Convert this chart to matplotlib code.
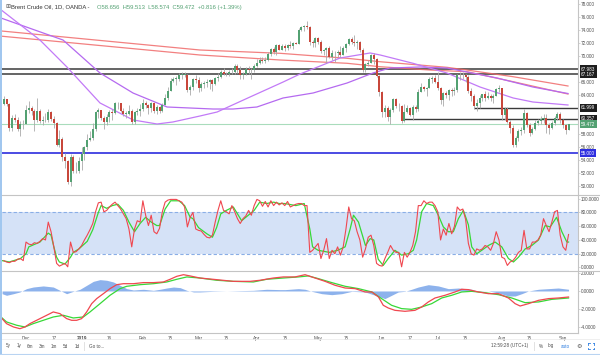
import numpy as np
import pandas as pd
import matplotlib
matplotlib.use("Agg")
import matplotlib.pyplot as plt
import matplotlib.transforms as mtrans
from matplotlib.lines import Line2D

# ---------------- data ----------------
holidays = ["2018-12-25", "2019-01-01"]
dates = pd.bdate_range("2018-11-21", "2019-09-04")
dates = dates[~dates.isin(pd.to_datetime(holidays))]

first_open = 62.6
closes = [
    63.3, 62.6, 58.9, 60.5, 60.2, 58.8, 59.5, 59.5,
    61.7, 62.0, 61.6, 60.1, 61.6, 60.0, 60.2, 60.1, 61.4, 60.3, 59.6, 56.3, 57.2, 54.4, 53.8, 50.5, 54.5, 52.2, 52.2, 53.8,
    54.9, 55.9, 57.1, 57.3, 58.7, 61.4, 61.7, 60.5, 59.9, 60.6, 61.3, 61.2, 62.7, 62.7, 61.5, 61.1, 61.1, 61.6, 59.9, 61.3, 61.6, 61.9,
    62.8, 62.5, 62.0, 62.7, 61.6, 62.1, 61.5, 62.4, 63.6, 64.6, 66.2, 66.5, 66.5, 67.1, 67.1, 67.1, 64.8, 65.2, 66.4, 66.3,
    65.1, 65.7, 65.9, 66.0, 66.3, 65.7, 66.6, 66.7, 67.6, 67.2, 67.2, 67.5, 67.6, 68.5, 67.9, 67.0, 67.2, 68.0, 67.8, 67.8, 68.4,
    69.0, 69.4, 69.3, 69.4, 70.3, 71.1, 70.6, 71.7, 71.0, 71.6, 71.2, 71.7, 71.6, 72.0, 71.9, 74.0, 74.5, 74.6, 74.4, 72.2, 72.0, 72.8,
    72.2, 70.8, 70.9, 71.2, 69.9, 70.4, 70.4, 70.6, 70.2, 71.2, 71.8, 72.6, 72.2, 72.0, 72.2, 71.0, 67.8, 68.7, 69.0, 70.1, 69.5, 66.9, 64.5,
    61.3, 62.0, 60.6, 61.7, 63.3, 62.3, 62.3, 60.0, 61.3, 62.0, 60.9, 62.1, 61.8, 64.5, 65.2, 64.9, 65.1, 66.5, 66.6, 66.0,
    65.0, 63.2, 64.3, 64.0, 64.7, 64.6, 64.7, 67.1, 67.0, 67.1, 66.8, 64.6, 63.9, 62.3, 62.8, 63.5, 64.1, 63.6, 63.8, 63.6, 63.9, 64.9, 65.1,
    60.9, 61.9, 59.8, 58.9, 56.3, 57.3, 58.5, 58.6, 61.2, 59.4, 58.2, 58.7, 59.7, 60.0, 60.3, 60.5, 59.3, 58.9, 59.6, 60.5, 61.1, 60.1,
    59.4, 58.656, 59.472,
]
highs = [
    63.8, 63.4, 62.7, 60.9, 61.0, 60.6, 60.0, 60.2,
    62.5, 63.0, 62.3, 61.8, 63.6, 61.8, 60.8, 61.2, 61.8, 61.5, 60.7, 59.9, 58.6, 57.5, 55.0, 53.9, 54.9, 54.8, 53.7, 54.5,
    55.9, 56.2, 58.0, 58.5, 59.6, 61.5, 62.0, 61.4, 60.8, 61.0, 61.7, 61.9, 62.9, 62.9, 62.6, 62.0, 61.6, 62.4, 61.8, 61.5, 62.0, 62.6,
    63.3, 63.0, 62.6, 62.9, 62.9, 62.4, 62.3, 62.8, 64.2, 65.2, 66.6, 66.8, 66.9, 67.4, 67.5, 67.5, 67.2, 65.6, 66.6, 67.0,
    66.8, 66.0, 66.1, 66.4, 66.5, 66.4, 66.8, 67.4, 67.9, 68.1, 67.6, 67.9, 68.2, 68.7, 68.7, 68.4, 67.6, 68.3, 68.4, 68.2, 68.7,
    69.6, 69.8, 69.9, 69.9, 70.6, 71.3, 71.4, 71.9, 71.8, 71.8, 71.9, 71.8, 72.3, 72.1, 72.1, 74.3, 74.7, 74.8, 75.4, 74.6, 72.5, 73.0,
    73.0, 72.4, 71.1, 71.4, 71.5, 71.0, 70.7, 71.0, 71.5, 71.5, 72.0, 72.8, 73.0, 73.2, 72.4, 72.3, 71.2, 69.0, 69.4, 70.3, 70.4, 69.7, 67.0,
    64.6, 62.4, 62.3, 62.0, 63.5, 63.6, 62.8, 62.4, 62.6, 62.4, 62.2, 62.4, 62.5, 64.9, 65.8, 65.4, 65.3, 66.8, 66.9, 67.0,
    67.5, 65.3, 64.5, 64.6, 64.9, 65.0, 65.3, 67.3, 67.5, 67.5, 67.3, 67.1, 65.1, 64.2, 63.4, 64.0, 64.2, 64.6, 64.5, 64.1, 64.1, 65.1, 65.6,
    65.1, 62.2, 62.1, 60.1, 59.3, 57.7, 58.7, 59.1, 61.9, 61.4, 59.7, 59.1, 60.2, 60.3, 60.8, 61.1, 61.0, 59.6, 60.0, 60.8, 61.4, 61.3,
    60.3, 59.5, 59.513,
]
lows = [
    62.4, 62.3, 58.4, 58.5, 59.8, 58.4, 57.6, 58.7,
    59.6, 61.2, 60.9, 58.4, 59.8, 59.7, 59.3, 59.8, 59.8, 60.0, 58.9, 56.1, 55.9, 53.8, 52.8, 50.2, 49.9, 51.9, 52.0, 52.0,
    52.5, 54.0, 55.5, 56.9, 57.1, 58.5, 60.4, 60.1, 58.8, 59.4, 59.8, 60.2, 61.0, 61.8, 61.3, 60.8, 60.4, 60.9, 59.5, 59.5, 60.9, 60.8,
    61.5, 62.0, 61.0, 61.4, 61.2, 61.0, 61.2, 61.3, 62.6, 63.2, 64.6, 66.0, 65.6, 66.2, 66.5, 66.7, 64.5, 64.0, 64.8, 65.9,
    64.4, 64.6, 65.1, 65.2, 64.9, 64.6, 65.5, 66.2, 66.6, 67.0, 66.9, 66.9, 67.3, 67.2, 67.4, 66.5, 66.4, 67.1, 67.3, 66.5, 67.6,
    68.3, 68.8, 68.9, 68.9, 69.3, 70.0, 70.3, 70.2, 70.9, 70.9, 70.8, 70.9, 71.3, 71.1, 71.8, 71.8, 73.8, 73.9, 74.1, 71.7, 71.4, 71.4,
    71.8, 70.4, 70.2, 69.0, 69.7, 69.4, 69.1, 69.9, 69.9, 70.1, 70.6, 71.7, 71.9, 71.6, 71.1, 70.6, 67.5, 67.5, 68.4, 68.9, 68.7, 66.7, 63.9,
    60.6, 60.6, 60.0, 59.5, 61.4, 62.0, 61.6, 59.6, 59.8, 61.2, 60.8, 60.1, 61.3, 61.6, 64.4, 64.6, 63.9, 65.0, 65.9, 65.8,
    64.7, 62.6, 62.3, 63.6, 63.2, 63.8, 64.0, 64.4, 66.3, 66.4, 66.0, 64.3, 63.0, 61.8, 61.5, 62.0, 63.1, 63.0, 63.3, 63.1, 62.7, 63.8, 64.4,
    60.1, 60.1, 59.6, 58.1, 55.9, 56.0, 56.9, 57.8, 58.2, 59.0, 57.7, 57.9, 58.6, 59.3, 59.5, 59.7, 58.1, 57.9, 58.7, 59.4, 60.2, 59.7,
    58.9, 57.9, 58.574,
]

# moving averages: (bar index, price)
ma_fast_idx = [-0.6, 13.0, 22.7, 34.6, 46.5, 55.1, 60.8, 70.5, 76.7, 88.5, 100.4, 106.5, 110.1, 120.9, 131.7, 135.3, 142.4, 147.1, 159.3, 171.2, 183.1, 190.2, 202.8]
ma_fast_val = [77.0, 72.47, 68.31, 62.76, 60.14, 59.52, 59.83, 60.75, 61.37, 63.68, 65.99, 67.23, 67.84, 69.70, 70.47, 70.16, 69.39, 68.88, 67.38, 65.22, 63.53, 62.91, 62.45]
ma_slow_idx = [-0.6, 21.3, 34.6, 46.5, 58.7, 75.2, 82.4, 91.0, 100.4, 111.2, 123.4, 132.7, 138.8, 149.6, 159.3, 166.5, 177.3, 190.2, 202.8]
ma_slow_val = [75.8, 72.47, 67.38, 64.29, 62.14, 61.83, 61.83, 62.14, 63.53, 64.30, 65.84, 67.38, 68.15, 68.31, 68.15, 67.54, 66.61, 65.22, 64.22]
ma_red1_idx = [-0.6, 70.5, 99.3, 123.4, 135.3, 159.3, 166.5, 183.1, 202.8]
ma_red1_val = [73.85, 70.93, 70.42, 69.65, 69.12, 68.26, 67.84, 66.81, 65.38]
ma_red2_idx = [-0.6, 70.5, 99.3, 123.4, 135.3, 153.2, 166.5, 183.1, 202.8]
ma_red2_val = [73.05, 70.16, 69.39, 68.88, 68.35, 67.84, 67.58, 66.04, 64.14]

# horizontal levels
full_levels = [67.983, 67.167]
partial_levels = [61.999, 60.357]
partial_start = ["2019-07-18", "2019-06-12"]
support_level = 55.000
last_price = 59.472

# stochastic
stoch_k = [
    10, 8, 7, 9, 9, 12, 13, 10, 37, 34, 33, 36, 35, 38, 42, 40, 66, 52, 30, 6,
    2, 4, 6, 1, 37, 22, 23, 27, 32, 40, 47, 55, 64, 81, 94, 95, 81, 83, 88, 92,
    95, 90, 85, 78, 71, 56, 30, 56, 68, 66, 97, 76, 61, 76, 52, 49, 57, 81, 95, 98,
    99, 99, 99, 97, 95, 88, 59, 73, 80, 56, 54, 53, 48, 44, 43, 47, 66, 83, 97, 83,
    81, 78, 90, 81, 71, 64, 71, 75, 83, 76, 90, 99, 97, 89, 96, 88, 97, 90, 95, 91,
    94, 90, 96, 88, 90, 92, 93, 93, 90, 90, 22, 25, 30, 35, 13, 25, 42, 13, 25, 20,
    30, 18, 30, 56, 88, 71, 68, 52, 40, 15, 27, 44, 47, 32, 6, 3, 2, 13, 22, 32,
    25, 22, 22, 1, 22, 15, 22, 32, 52, 90, 90, 97, 93, 95, 95, 90, 81, 40, 56, 47,
    64, 49, 60, 88, 83, 85, 70, 35, 20, 18, 27, 25, 27, 32, 30, 25, 35, 52, 40, 15,
    13, 3, 8, 10, 15, 22, 25, 54, 27, 27, 37, 37, 40, 47, 71, 61, 52, 66, 81, 83,
    47, 30, 25, 48,
]
stoch_d_idx = [-0.6, 2, 6, 8, 9, 13, 16, 17, 18, 19, 20, 22, 24, 25, 27, 30, 32, 34, 35, 37, 39, 41, 43, 45, 47, 49, 51, 53, 55, 56, 58, 60, 63, 65, 67, 68, 70, 73, 75, 76.5, 78, 80, 82.5, 84, 85.5, 87, 90, 92, 94.5, 97, 99, 101, 105, 108, 110, 111, 113, 117, 120, 122.7, 124.5, 125.7, 127.5, 130, 131.7, 133, 134.6, 136.4, 138.2, 140.6, 143, 145.4, 147.2, 148.4, 150.2, 152, 154.4, 156.2, 158, 159.8, 161.6, 163.4, 165.2, 167, 168.2, 170, 171.8, 174.2, 176.6, 179, 181.4, 183.2, 185, 187.4, 189.8, 192.2, 194.6, 196.4, 198.7, 200.6, 202.4, 203]
stoch_d_val = [10, 8, 13, 20, 30, 37, 50, 47, 30, 15, 8, 5, 15, 22, 27, 38, 55, 80, 90, 86, 90, 92, 83, 66, 52, 64, 73, 66, 61, 61, 85, 97, 97, 90, 73, 71, 58, 49, 44, 58, 78, 83, 88, 78, 68, 73, 83, 95, 93, 95, 93, 93, 90, 93, 56, 30, 25, 22, 25, 30, 56, 76, 66, 32, 42, 40, 12, 3, 13, 25, 18, 20, 25, 40, 81, 93, 90, 76, 59, 52, 52, 71, 83, 62, 30, 20, 25, 32, 37, 30, 13, 8, 15, 27, 32, 40, 61, 59, 73, 52, 37, 37]

# MACD
macd_idx = [-0.6, 1, 3.5, 5.8, 7.6, 9.4, 11.8, 14.2, 16.6, 17.8, 20.2, 22.6, 24.4, 26.2, 28, 29.8, 31.6, 33.4, 35.8, 38.2, 40.6, 43, 46.6, 50.2, 53.8, 57.4, 59.8, 62.2, 64.6, 67, 70.5, 76.5, 82.5, 88.5, 92.1, 96.9, 100.5, 104.7, 108.3, 111.9, 115.5, 119.1, 122.7, 126.3, 129.9, 132.3, 134.7, 136.4, 138.2, 140.6, 144.2, 147.8, 150.2, 152.6, 155, 158.6, 162.2, 164.6, 167, 170.6, 174.2, 177.8, 181.4, 183.8, 185.6, 188.6, 192.2, 195.8, 199.3, 203]
macd_val = [-3.07, -3.63, -4.0, -4.19, -4.0, -3.63, -3.26, -2.89, -2.52, -2.33, -2.52, -3.07, -3.26, -3.26, -3.07, -2.33, -1.41, -0.85, -0.30, 0.26, 0.70, 0.81, 0.81, 0.93, 0.93, 1.0, 1.30, 1.63, 1.81, 1.67, 1.44, 1.26, 1.07, 1.07, 1.19, 1.44, 1.56, 1.56, 1.81, 1.44, 1.07, 0.63, 0.33, 0.26, -0.11, -0.11, -0.67, -1.59, -1.89, -2.15, -2.26, -2.15, -1.78, -1.22, -0.78, -0.48, -0.11, 0.19, 0.15, -0.11, -0.30, -0.30, -0.78, -1.41, -1.67, -1.41, -1.04, -0.85, -0.78, -0.67]
signal_idx = [-0.6, 1, 4.65, 7.6, 10.6, 14.2, 17.8, 21.4, 25, 28.6, 31, 34.6, 38.2, 41.8, 44.2, 49, 53.8, 58.6, 62.2, 65.8, 70.5, 76.5, 82.5, 89.7, 94.5, 100.5, 105.9, 109.5, 113.1, 117.9, 122.7, 127.5, 132.3, 135.8, 139.4, 143, 146.6, 150.2, 153.8, 157.4, 161, 164.6, 168.2, 173, 177.8, 182.6, 187.4, 192.2, 197, 203]
signal_val = [-3.0, -3.44, -3.81, -4.0, -3.63, -3.26, -2.89, -2.70, -3.0, -2.89, -2.33, -1.41, -0.48, 0.26, 0.52, 0.70, 0.81, 1.0, 1.30, 1.56, 1.44, 1.19, 1.07, 1.0, 1.30, 1.44, 1.56, 1.67, 1.37, 0.93, 0.52, 0.26, -0.11, -0.85, -1.59, -1.96, -2.04, -1.78, -1.41, -0.78, -0.48, -0.11, -0.04, -0.19, -0.41, -0.78, -1.30, -1.22, -0.93, -0.78]
hist_idx = [-0.6, 1, 3.5, 5.8, 8.2, 10.6, 14.2, 17.8, 20.2, 22.6, 25, 27.4, 29.8, 32.2, 34.6, 37, 39.4, 41.8, 44.2, 46.6, 50.2, 53.8, 56.2, 58.6, 61, 63.4, 65.8, 68.2, 70.5, 75.3, 80.1, 84.9, 89.7, 94.5, 99.3, 101.1, 105.9, 108.3, 110.7, 114.3, 117.9, 121.5, 125.1, 129.9, 133.5, 137, 139.4, 141.8, 144.2, 146.6, 149, 152.6, 156.2, 159.8, 163.4, 165.8, 168.2, 170.6, 174.2, 177.8, 181.4, 183.8, 186.2, 188.6, 192.2, 195.8, 199.3, 203]
hist_val = [-0.30, -0.48, -0.30, -0.11, 0.26, 0.44, 0.56, 0.44, 0.07, -0.30, -0.04, 0.19, 0.63, 1.07, 1.26, 1.19, 1.0, 0.63, 0.26, 0.11, 0.19, 0.07, 0.19, 0.33, 0.44, 0.37, 0.07, -0.11, -0.11, -0.04, 0.0, 0.04, 0.07, 0.19, 0.15, 0.15, 0.26, 0.19, -0.04, -0.30, -0.41, -0.30, -0.04, -0.11, -0.48, -0.85, -0.48, -0.11, -0.04, 0.19, 0.44, 0.70, 0.56, 0.26, 0.33, 0.26, 0.19, -0.04, 0.0, -0.22, -0.56, -0.56, -0.30, 0.0, 0.19, 0.26, 0.33, 0.19]

tick_dates = ["2018-12-03", "2018-12-17", "2019-01-02", "2019-01-16", "2019-02-01", "2019-02-15", "2019-03-01", "2019-03-15",
              "2019-04-01", "2019-04-15", "2019-05-01", "2019-05-15", "2019-06-03", "2019-06-17", "2019-07-01", "2019-07-15",
              "2019-08-01", "2019-08-15", "2019-09-02"]
tick_labels = ["Dec", "17", "2019", "16", "Feb", "15", "Mar", "15", "Apr", "15", "May", "15", "Jun", "17", "Jul", "15", "Aug", "15", "Sep"]

price_ticks = [50, 52, 54, 56, 58, 64, 66, 70, 72, 74, 76, 78]
stoch_ticks = [0, 20, 40, 60, 80, 100]
macd_ticks = [-4, -2, 0, 2]

# ---------------- style ----------------
UP = "#53a172"
DOWN = "#c8473b"
WICK = "#a9a9a9"
TXT = "#4d4d4d"
plt.rcParams["font.family"] = ["Liberation Sans", "DejaVu Sans"]
LS = 3.3  # label size

W, H = 600, 355
fig = plt.figure(figsize=(6, 3.55), dpi=100)
fig.patch.set_facecolor("white")

def rect(x0, y0, x1, y1):
    return [x0 / W, 1 - y1 / H, (x1 - x0) / W, (y1 - y0) / H]

axp = fig.add_axes(rect(2, 0, 578, 195))
axs = fig.add_axes(rect(2, 195, 578, 271))
axm = fig.add_axes(rect(2, 271, 578, 333))

n = len(closes)
idx = np.arange(n)
c = np.array(closes)
o = np.concatenate([[first_open], c[:-1]])
h = np.maximum(np.array(highs), np.maximum(o, c))
l = np.minimum(np.array(lows), np.minimum(o, c))
xlim = (-0.63, 206.4)

for ax in (axp, axs, axm):
    ax.set_xlim(*xlim)
    ax.set_facecolor("white")
    for s in ("top", "left", "bottom"):
        ax.spines[s].set_visible(False)
    ax.spines["right"].set_color("#c4c4c4")
    ax.spines["right"].set_linewidth(0.8)
    ax.yaxis.tick_right()
    ax.tick_params(axis="y", length=1.2, width=0.5, color="#c4c4c4", labelsize=LS, labelcolor=TXT, pad=0.9)
    ax.tick_params(axis="x", length=0)

# ---- price panel
axp.set_ylim(48.57, 78.64)
axp.set_xticks([])
axp.set_yticks(price_ticks)
axp.set_yticklabels([f"{v:.3f}" for v in price_ticks])

for lv in full_levels:
    axp.axhline(lv, color="#3a3a3a", lw=1.1, zorder=2)
for lv, sd in zip(partial_levels, partial_start):
    i0 = int(np.where(dates == pd.Timestamp(sd))[0][0])
    axp.hlines(lv, i0, xlim[1], color="#3a3a3a", lw=1.0, zorder=2)
axp.axhline(support_level, color="#3d3de0", lw=1.3, zorder=2)
axp.axhline(last_price, color="#a9dcbc", lw=0.8, zorder=1)

axp.plot(ma_red1_idx, ma_red1_val, color="#f06a6a", lw=0.9, alpha=0.85, zorder=3)
axp.plot(ma_red2_idx, ma_red2_val, color="#f06a6a", lw=0.9, alpha=0.85, zorder=3)
axp.plot(ma_slow_idx, ma_slow_val, color="#b56af0", lw=0.9, zorder=3)
axp.plot(ma_fast_idx, ma_fast_val, color="#c27af7", lw=0.9, zorder=3)

colors = np.where(c >= o, UP, DOWN)
axp.vlines(idx, l, h, color=WICK, lw=0.6, zorder=4)
body_lo = np.minimum(o, c)
body_h = np.maximum(np.abs(c - o), 0.06)
axp.bar(idx, body_h, bottom=body_lo, width=0.72, color=colors, linewidth=0, zorder=5)

tr = mtrans.blended_transform_factory(axp.transAxes, axp.transData)
def box(val, fc):
    axp.text(1.005, val, f"{val:.3f}", transform=tr, fontsize=LS, color="white", va="center", ha="left",
             bbox=dict(boxstyle="square,pad=0.3", fc=fc, ec="none"), clip_on=False, zorder=10)
box(full_levels[0], "#1e1e1e")
box(full_levels[1], "#1e1e1e")
box(partial_levels[0], "#1e1e1e")
box(partial_levels[1], "#1e1e1e")
box(last_price, UP)
box(support_level, "#2f2fe0")

# ---- stochastic panel
axs.set_ylim(-5.1, 105.4)
axs.set_xticks([])
axs.axhspan(20, 80, color="#d5e2f7", lw=0, zorder=0)
for lv in (20, 80):
    axs.axhline(lv, color="#8aaee6", lw=0.8, ls=(0, (3, 2)), zorder=1)
axs.plot(idx, stoch_k, color="#f0474f", lw=0.8, zorder=3)
axs.plot(stoch_d_idx, stoch_d_val, color="#37d837", lw=0.9, zorder=2)
axs.set_yticks(stoch_ticks)
axs.set_yticklabels([f"{v:.4f}" for v in stoch_ticks])

# ---- MACD panel
axm.set_ylim(-4.67, 2.22)
axm.fill_between(hist_idx, 0, hist_val, color="#8db2ec", lw=0, zorder=1)
axm.plot(signal_idx, signal_val, color="#37d837", lw=0.9, zorder=2)
axm.plot(macd_idx, macd_val, color="#f0474f", lw=0.9, zorder=3)
axm.set_yticks(macd_ticks)
axm.set_yticklabels([f"{v:.4f}" for v in macd_ticks])
axm.spines["bottom"].set_visible(True)
axm.spines["bottom"].set_color("#c4c4c4")
axm.spines["bottom"].set_linewidth(0.8)
tick_idx = [int(np.where(dates == pd.Timestamp(d))[0][0]) for d in tick_dates]
axm.set_xticks(tick_idx)
axm.set_xticklabels(tick_labels)
axm.tick_params(axis="x", labelsize=LS, labelcolor=TXT, pad=2)
for lab in axm.get_xticklabels():
    if lab.get_text() == "2019":
        lab.set_fontweight("bold")

# separators and frame
for yy in (195, 271):
    fig.add_artist(Line2D([2 / W, 1], [1 - yy / H, 1 - yy / H], color="#c4c4c4", lw=0.8))
fig.add_artist(Line2D([1.2 / W, 1.2 / W], [0, 1], color="#8fbcec", lw=1.2))
fig.add_artist(Line2D([0, 1], [1.2 / H, 1.2 / H], color="#b9d4f2", lw=0.8))
fig.add_artist(Line2D([2 / W, 1], [1 - 339 / H, 1 - 339 / H], color="#ececec", lw=0.6))

# title
fig.text(5 / W, 1 - 7 / H, "\u229e", fontsize=4.2, color="#555555", va="center", ha="left", family=["DejaVu Sans"])
fig.text(11 / W, 1 - 7 / H, "Brent Crude Oil, 1D, OANDA -", fontsize=4.2, color="#333333", va="center", ha="left")
fig.text(97 / W, 1 - 7 / H, "O58.656  H59.513  L58.574  C59.472  +0.816 (+1.39%)", fontsize=4.2, color=UP, va="center", ha="left")

# bottom toolbar
ty = 1 - 346 / H
for xx, t in zip([8, 19, 30, 42, 54, 65, 77], ["5y", "1y", "6m", "3m", "1m", "5d", "1d"]):
    fig.text(xx / W, ty, t, fontsize=LS, color=TXT, ha="center", va="center")
fig.add_artist(Line2D([84 / W, 84 / W], [ty - 4 / H, ty + 4 / H], color="#dddddd", lw=0.6))
fig.text(89 / W, ty, "Go to...", fontsize=LS, color=TXT, ha="left", va="center")
fig.text(528 / W, ty, "12:59:28 (UTC+1)", fontsize=LS, color=TXT, ha="right", va="center")
fig.add_artist(Line2D([534 / W, 534 / W], [ty - 4 / H, ty + 4 / H], color="#dddddd", lw=0.6))
fig.text(541 / W, ty, "%", fontsize=LS, color=TXT, ha="center", va="center")
fig.text(551 / W, ty, "log", fontsize=LS, color=TXT, ha="center", va="center")
fig.text(565 / W, ty, "auto", fontsize=LS, color="#2f7fe0", ha="center", va="center")
fig.text(579 / W, ty, "\u2699", fontsize=4.4, color="#555555", ha="center", va="center", family=["DejaVu Sans"])

# fullscreen icon (glyph not available in installed fonts) drawn as four corner brackets
cx, cy, s, a = 591, 346, 3.0, 1.5
for sx in (-1, 1):
    for sy in (-1, 1):
        x0, y0 = cx + sx * s, cy + sy * s
        fig.add_artist(Line2D([x0 / W, (x0 - sx * a) / W], [1 - y0 / H, 1 - y0 / H], color="#2f7fe0", lw=0.6))
        fig.add_artist(Line2D([x0 / W, x0 / W], [1 - y0 / H, 1 - (y0 - sy * a) / H], color="#2f7fe0", lw=0.6))

fig.savefig("out.png", dpi=100, facecolor="white")
